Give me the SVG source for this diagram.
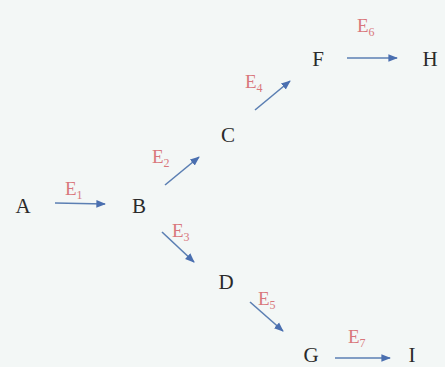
<svg xmlns="http://www.w3.org/2000/svg" width="445" height="367" viewBox="0 0 445 367">
<style>
.n{font-family:"Liberation Serif","DejaVu Serif",serif;font-size:21px;fill:#2a2a2a;text-anchor:middle}
.e{font-family:"Liberation Serif","DejaVu Serif",serif;font-size:19px;fill:#d9777c}
.s{font-size:12px}
.c{stroke:#5b7fb3;stroke-width:1.6;fill:none;marker-end:url(#ah)}
</style>
<defs>
<marker id="ah" viewBox="0 0 10 10" refX="9" refY="5" markerWidth="6" markerHeight="6" orient="auto" markerUnits="strokeWidth">
<path d="M0,1 L10,5 L0,9 Z" fill="#4a6fb0"/>
</marker>
</defs>
<rect width="445" height="367" fill="#f3f7f6"/>
<g id="connectors">
<line class="c" x1="55" y1="203" x2="105" y2="204"/>
<line class="c" x1="165" y1="185" x2="199" y2="157"/>
<line class="c" x1="255" y1="110" x2="290" y2="81"/>
<line class="c" x1="162" y1="232" x2="194" y2="262"/>
<line class="c" x1="250" y1="302" x2="283" y2="331"/>
<line class="c" x1="347" y1="58" x2="397" y2="58"/>
<line class="c" x1="335" y1="358" x2="390" y2="358"/>
</g>
<g id="edge-labels">
<text class="e" x="65" y="195">E<tspan class="s" dy="4">1</tspan></text>
<text class="e" x="152" y="163">E<tspan class="s" dy="4">2</tspan></text>
<text class="e" x="172" y="237">E<tspan class="s" dy="4">3</tspan></text>
<text class="e" x="245" y="88">E<tspan class="s" dy="4">4</tspan></text>
<text class="e" x="258" y="305">E<tspan class="s" dy="4">5</tspan></text>
<text class="e" x="357" y="32">E<tspan class="s" dy="4">6</tspan></text>
<text class="e" x="348" y="343">E<tspan class="s" dy="4">7</tspan></text>
</g>
<g id="A"><text class="n" x="23" y="213">A</text></g>
<g id="B"><text class="n" x="139" y="213">B</text></g>
<g id="C"><text class="n" x="228" y="142">C</text></g>
<g id="D"><text class="n" x="226" y="289">D</text></g>
<g id="F"><text class="n" x="318" y="66">F</text></g>
<g id="H"><text class="n" x="430" y="66">H</text></g>
<g id="G"><text class="n" x="311" y="362">G</text></g>
<g id="I"><text class="n" x="412" y="362">I</text></g>
</svg>
